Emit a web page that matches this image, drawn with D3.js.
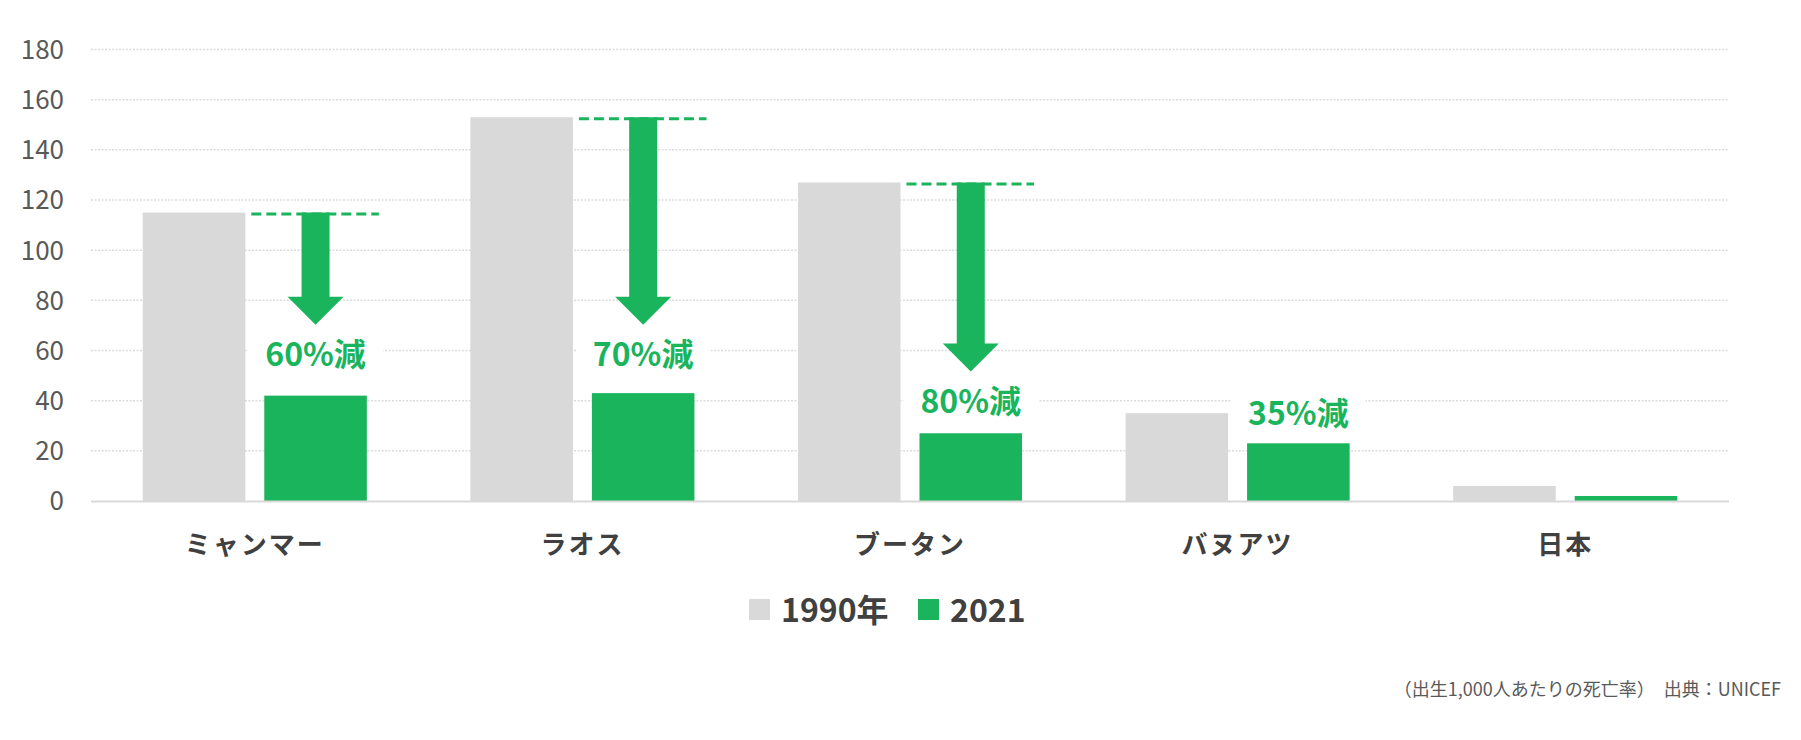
<!DOCTYPE html>
<html>
<head>
<meta charset="utf-8">
<script src="https://cdn.jsdelivr.net/npm/d3@7"></script>
<style>
  html, body { margin: 0; padding: 0; background: #ffffff; }
  svg { display: block; font-family: "Noto Sans CJK JP", "Noto Sans", sans-serif; }
</style>
</head>
<body>
<svg id="chart" width="1801" height="740"></svg>
<script>
// ---- data ----
const categories = ["ミャンマー", "ラオス", "ブータン", "バヌアツ", "日本"];
const seriesNames = ["1990年", "2021"];
const values1990 = [115, 153, 127, 35, 6];
const values2021 = [42, 43, 27, 23, 2];
const reductionLabels = ["60%減", "70%減", "80%減", "35%減", null];
const arrowTips = [70.3, 70.3, 51.6, null, null];   // value where each arrow head ends
const yTicks = [0, 20, 40, 60, 80, 100, 120, 140, 160, 180];
const footnote = "（出生1,000人あたりの死亡率）　出典：UNICEF";

// ---- styles ----
const GRAY = "#d9d9d9";
const GREEN = "#1ab45c";
const TEXT = "#404040";
const TICK = "#595959";

const svg = d3.select("#chart");

const plot = { left: 91, right: 1729, top: 49.5, bottom: 501 };

const x0 = d3.scaleBand().domain(categories).range([plot.left, plot.right]).padding(0);
const bw = x0.bandwidth();
const x1 = d3.scaleBand().domain(seriesNames)
  .range([bw * 0.158, bw * 0.842]).paddingInner(0.156).paddingOuter(0);
const y = d3.scaleLinear().domain([0, 180]).range([plot.bottom, plot.top]);

// gridlines
svg.append("g").selectAll("line").data(yTicks.filter(t => t > 0)).join("line")
  .attr("x1", plot.left).attr("x2", plot.right)
  .attr("y1", d => y(d)).attr("y2", d => y(d))
  .attr("stroke", "#dcdcdc").attr("stroke-width", 1.5)
  .attr("stroke-dasharray", "2,1.5");

// y axis labels
const yAxis = d3.axisLeft(y).tickValues(yTicks).tickSize(0).tickPadding(0);
const yg = svg.append("g").attr("transform", `translate(64,0)`).call(yAxis);
yg.select(".domain").remove();
yg.selectAll("text").attr("fill", TICK).style("font-size", "26px")
  .style("font-family", '"Noto Sans CJK JP", sans-serif').attr("dy", "0.34em");

// bars
const groups = svg.append("g").selectAll("g").data(categories).join("g")
  .attr("transform", d => `translate(${x0(d)},0)`);

groups.append("rect")
  .attr("x", x1("1990年")).attr("width", x1.bandwidth())
  .attr("y", (d, i) => y(values1990[i]))
  .attr("height", (d, i) => y(0) - y(values1990[i]))
  .attr("fill", GRAY);

groups.append("rect")
  .attr("x", x1("2021")).attr("width", x1.bandwidth())
  .attr("y", (d, i) => y(values2021[i]))
  .attr("height", (d, i) => y(0) - y(values2021[i]))
  .attr("fill", GREEN);

// baseline
svg.append("line")
  .attr("x1", plot.left).attr("x2", plot.right)
  .attr("y1", y(0) + 0.5).attr("y2", y(0) + 0.5)
  .attr("stroke", "#d9d9d9").attr("stroke-width", 2);

// annotations: dashed reference line + arrow
categories.forEach((c, i) => {
  if (arrowTips[i] == null) return;
  const gx = x0(c);
  const grayEnd = gx + x1("1990年") + x1.bandwidth();
  const greenEnd = gx + x1("2021") + x1.bandwidth();
  const cx = gx + x1("2021") + x1.bandwidth() / 2;
  const top = y(values1990[i]);
  svg.append("line")
    .attr("x1", grayEnd + 6).attr("x2", greenEnd + 12)
    .attr("y1", top + 1.5).attr("y2", top + 1.5)
    .attr("stroke", GREEN).attr("stroke-width", 3)
    .attr("stroke-dasharray", "10,5");
  const tip = y(arrowTips[i]);
  const headH = 28, headW = 56, shaftW = 28;
  const path = d3.path();
  path.moveTo(cx - shaftW / 2, top);
  path.lineTo(cx + shaftW / 2, top);
  path.lineTo(cx + shaftW / 2, tip - headH);
  path.lineTo(cx + headW / 2, tip - headH);
  path.lineTo(cx, tip);
  path.lineTo(cx - headW / 2, tip - headH);
  path.lineTo(cx - shaftW / 2, tip - headH);
  path.closePath();
  svg.append("path").attr("d", path.toString()).attr("fill", GREEN);
});

// reduction labels
categories.forEach((c, i) => {
  if (!reductionLabels[i]) return;
  const cx = x0(c) + x1("2021") + x1.bandwidth() / 2;
  const base = arrowTips[i] != null ? y(arrowTips[i]) + 41 : y(values2021[i]) - 18;
  const g = svg.append("g");
  const t = g.append("text")
    .attr("x", cx).attr("y", base)
    .attr("text-anchor", "middle")
    .attr("fill", GREEN)
    .style("font-size", "32px").style("font-weight", "700")
    .text(reductionLabels[i]);
  const bb = t.node().getBBox();
  g.insert("rect", "text")
    .attr("x", bb.x - 17).attr("width", bb.width + 34)
    .attr("y", bb.y).attr("height", bb.height)
    .attr("fill", "#ffffff");
});

// category labels
svg.append("g").selectAll("text").data(categories).join("text")
  .attr("x", d => x0(d) + bw / 2).attr("y", 554)
  .attr("text-anchor", "middle")
  .attr("fill", TEXT)
  .style("font-size", "26px").style("font-weight", "700")
  .style("letter-spacing", "2px")
  .text(d => d);

// legend
const legendItems = [
  { name: seriesNames[0], color: GRAY, x: 749 },
  { name: seriesNames[1], color: GREEN, x: 918 }
];
const lg = svg.append("g").selectAll("g").data(legendItems).join("g")
  .attr("transform", d => `translate(${d.x},0)`);
lg.append("rect").attr("x", 0).attr("y", 599).attr("width", 21).attr("height", 21)
  .attr("fill", d => d.color);
lg.append("text").attr("x", 32).attr("y", 622)
  .attr("fill", TEXT)
  .style("font-size", "32px").style("font-weight", "700")
  .text(d => d.name);

// footnote
svg.append("text")
  .attr("x", 1781).attr("y", 696)
  .attr("text-anchor", "end")
  .attr("fill", "#595959")
  .style("font-size", "18px")
  .text(footnote);
</script>
</body>
</html>
